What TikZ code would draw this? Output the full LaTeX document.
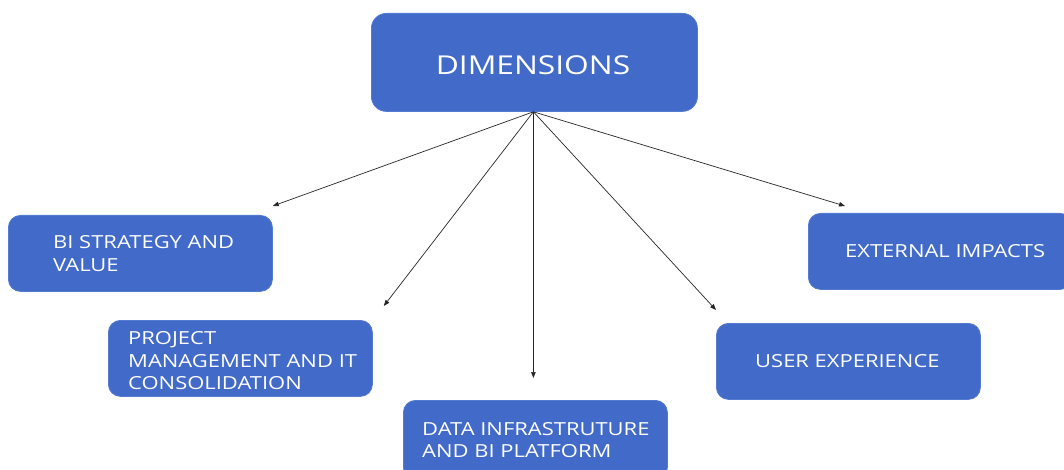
\documentclass[tikz,border=0pt]{standalone}
\usepackage{fontspec}
\setmainfont{Open Sans}[FakeStretch=1.22]
\usetikzlibrary{arrows.meta}
\definecolor{boxblue}{RGB}{65,106,201}
\definecolor{boxedge}{RGB}{84,122,210}
\begin{document}
\begin{tikzpicture}[x=1pt,y=-1pt,
  dimbox/.style={draw=boxedge, line width=0.8pt, fill=boxblue, rounded corners=12pt,
    minimum width=264pt, minimum height=76pt, inner sep=0pt, anchor=north west},
  boxtext/.style={text=white, font=\fontsize{18}{22.5}\selectfont, align=left,
    inner sep=0pt, anchor=west},
  link/.style={draw=black!85, line width=0.7pt, -{Triangle[length=6pt,width=4.5pt]}}
]
\useasboundingbox (0,0) rectangle (1064,470);

% central box
\node[dimbox, minimum width=326pt, minimum height=98pt, rounded corners=15pt] (dim) at (371,13) {};
\node[boxtext, anchor=center, font=\fontsize{26}{30}\selectfont] (dim-t) at (533,65) {DIMENSIONS};

% the five dimensions
\node[dimbox] (bi) at (8,215) {};
\node[boxtext] (bi-t) at ([xshift=45pt]bi.west) {BI STRATEGY AND\\VALUE};

\node[dimbox] (pm) at (108,320) {};
\node[boxtext] (pm-t) at ([xshift=20pt,yshift=-2.5pt]pm.west) {PROJECT\\MANAGEMENT AND IT\\CONSOLIDATION};

\node[dimbox, minimum height=79pt] (di) at (403,400) {};
\node[boxtext] (di-t) at ([xshift=19pt]di.west) {DATA INFRASTRUTURE\\AND BI PLATFORM};

\node[dimbox] (ex) at (808,213) {};
\node[boxtext] (ex-t) at ([xshift=37pt]ex.west) {EXTERNAL IMPACTS};

\node[dimbox] (ux) at (716,323) {};
\node[boxtext] (ux-t) at ([xshift=39pt]ux.west) {USER EXPERIENCE};

% arrow ends, just short of each box
\coordinate (hub) at ([xshift=-1pt]dim.south);
\coordinate (to-bi) at ([yshift=9pt]bi.north east);
\coordinate (to-pm) at ([xshift=11pt,yshift=14pt]pm.north east);
\coordinate (to-di) at ([xshift=-2pt,yshift=22pt]di.north);
\coordinate (to-ux) at ([yshift=13pt]ux.north west);
\coordinate (to-ex) at ([xshift=37pt,yshift=7pt]ex.north west);

\draw[link] (hub) -- (to-bi);
\draw[link] (hub) -- (to-pm);
\draw[link] (hub) -- (to-di);
\draw[link] (hub) -- (to-ux);
\draw[link] (hub) -- (to-ex);
\end{tikzpicture}
\end{document}
